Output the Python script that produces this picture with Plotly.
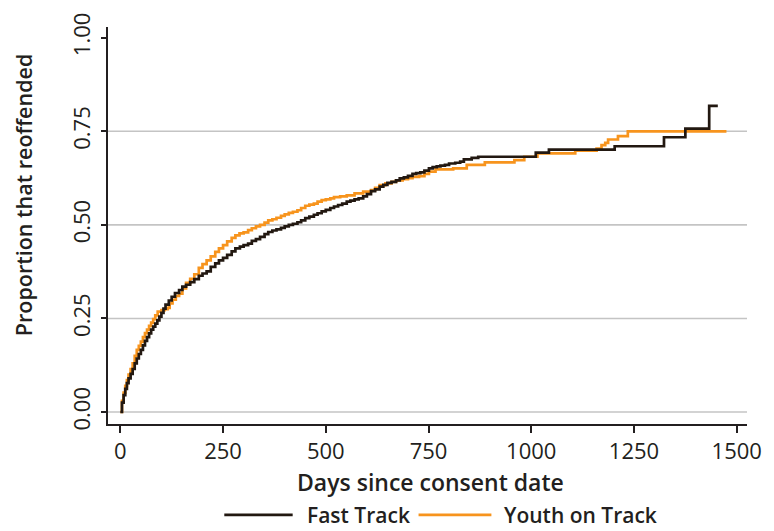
import plotly.graph_objects as go

# Kaplan-Meier style cumulative proportion reoffending, by programme
fast_days = [0, 4, 8, 12, 16, 20, 25, 30, 35, 40, 45, 50, 55, 60, 65, 70, 75, 80, 85, 90,
             95, 100, 105, 110, 118, 125, 133, 143, 151, 160, 170, 180, 191, 200, 210, 220,
             231, 240, 250, 260, 271, 280, 291, 300, 311, 320, 330, 340, 351, 360, 370, 380,
             391, 400, 410, 420, 431, 440, 450, 460, 471, 480, 490, 500, 511, 520, 530, 540,
             551, 560, 570, 580, 591, 600, 610, 620, 631, 640, 650, 660, 671, 680, 690, 700,
             711, 720, 730, 740, 751, 760, 770, 779, 790, 800, 815, 827, 836, 855, 871, 1011,
             1043, 1203, 1323, 1375, 1433, 1454]
fast_prop = [0.0, 0.025, 0.045, 0.062, 0.077, 0.09, 0.102, 0.115, 0.13, 0.143, 0.155, 0.166,
             0.178, 0.19, 0.2, 0.21, 0.22, 0.228, 0.236, 0.245, 0.255, 0.265, 0.276, 0.287,
             0.298, 0.308, 0.318, 0.326, 0.335, 0.34, 0.347, 0.355, 0.364, 0.37, 0.376, 0.388,
             0.397, 0.405, 0.412, 0.42, 0.429, 0.437, 0.442, 0.446, 0.45, 0.457, 0.462, 0.468,
             0.475, 0.481, 0.485, 0.488, 0.492, 0.496, 0.5, 0.503, 0.507, 0.512, 0.518, 0.522,
             0.527, 0.531, 0.536, 0.54, 0.545, 0.549, 0.553, 0.557, 0.562, 0.565, 0.568, 0.571,
             0.576, 0.582, 0.59, 0.595, 0.602, 0.607, 0.612, 0.615, 0.619, 0.624, 0.627, 0.631,
             0.636, 0.638, 0.64, 0.645, 0.651, 0.654, 0.656, 0.658, 0.66, 0.664, 0.666, 0.669,
             0.675, 0.679, 0.682, 0.693, 0.701, 0.71, 0.734, 0.757, 0.818, 0.818]

youth_days = [0, 4, 8, 12, 16, 20, 25, 30, 35, 40, 45, 50, 55, 60, 65, 70, 75, 80, 85, 91,
              100, 108, 115, 120, 127, 135, 143, 151, 160, 170, 180, 191, 200, 210, 220, 231,
              240, 250, 260, 271, 280, 290, 300, 311, 320, 330, 340, 351, 360, 370, 380, 391,
              400, 410, 420, 431, 440, 450, 460, 471, 480, 490, 500, 511, 520, 535, 551, 570,
              591, 610, 620, 631, 645, 660, 671, 687, 700, 711, 727, 740, 751, 767, 810, 843,
              887, 959, 983, 1015, 1107, 1159, 1171, 1180, 1187, 1211, 1235, 1475]
youth_prop = [0.0, 0.03, 0.052, 0.07, 0.085, 0.1, 0.115, 0.13, 0.15, 0.166, 0.177, 0.188,
              0.2, 0.211, 0.22, 0.23, 0.239, 0.248, 0.258, 0.268, 0.272, 0.275, 0.278, 0.29,
              0.3, 0.31, 0.316, 0.33, 0.345, 0.356, 0.368, 0.385, 0.395, 0.405, 0.416, 0.428,
              0.437, 0.446, 0.456, 0.465, 0.472, 0.477, 0.48, 0.486, 0.491, 0.496, 0.5, 0.506,
              0.512, 0.515, 0.519, 0.524, 0.528, 0.532, 0.535, 0.539, 0.545, 0.551, 0.554,
              0.557, 0.562, 0.566, 0.568, 0.571, 0.574, 0.576, 0.579, 0.584, 0.589, 0.593,
              0.599, 0.606, 0.611, 0.615, 0.619, 0.622, 0.625, 0.628, 0.63, 0.636, 0.642,
              0.648, 0.651, 0.66, 0.667, 0.673, 0.682, 0.691, 0.698, 0.704, 0.713, 0.719,
              0.728, 0.737, 0.75, 0.75]

series_names = ["Fast Track", "Youth on Track"]
series_colors = ["#221811", "#F7941D"]

x_ticks = [0, 250, 500, 750, 1000, 1250, 1500]
x_tick_labels = ["0", "250", "500", "750", "1000", "1250", "1500"]
y_ticks = [0.0, 0.25, 0.50, 0.75, 1.00]
y_tick_labels = ["0.00", "0.25", "0.50", "0.75", "1.00"]
grid_levels = [0.0, 0.25, 0.50, 0.75]

FONT = "Open Sans"
TEXT = "#231f20"
TICK_FONT = dict(family=FONT, size=22, color=TEXT, weight=500)

fig = go.Figure()
for days, prop, name, color in [(youth_days, youth_prop, series_names[1], series_colors[1]),
                                (fast_days, fast_prop, series_names[0], series_colors[0])]:
    fig.add_trace(go.Scatter(x=days, y=prop, mode="lines", name=name,
                             line=dict(color=color, width=2.7, shape="hv"),
                             showlegend=False))

# horizontal reference lines
for g in grid_levels:
    fig.add_shape(type="line", xref="paper", x0=0, x1=1, yref="y", y0=g, y1=g,
                  line=dict(color="#c4c4c4", width=1.6), layer="below")

fig.update_layout(
    width=774, height=531,
    margin=dict(l=108, r=18, t=27, b=107),
    paper_bgcolor="white", plot_bgcolor="white",
    font=dict(family=FONT, color=TEXT, size=18),
)
fig.update_xaxes(range=[-30, 1525], tickvals=x_ticks, ticktext=x_tick_labels,
                 showgrid=False, zeroline=False, ticklabeloverflow="allow",
                 showline=True, linecolor="#231f20", linewidth=1.5,
                 ticks="outside", ticklen=7, tickwidth=1.5, tickcolor="#231f20",
                 tickfont=TICK_FONT)
fig.update_yaxes(range=[-0.032, 1.0286], tickvals=y_ticks, ticktext=y_tick_labels,
                 tickangle=-90, showgrid=False, zeroline=False, ticklabeloverflow="allow",
                 showline=True, linecolor="#231f20", linewidth=1.5,
                 ticks="outside", ticklen=5, tickwidth=1.5, tickcolor="#231f20",
                 ticklabelstandoff=2, tickfont=TICK_FONT)

# axis titles
fig.add_annotation(text="Days since consent date", xref="paper", yref="paper",
                   x=0.505, y=-0.146, xanchor="center", yanchor="middle", showarrow=False,
                   font=dict(family=FONT, size=23, color=TEXT, weight=600))
fig.add_annotation(text="Proportion that reoffended", xref="paper", yref="paper",
                   x=-0.131, y=0.577, xanchor="center", yanchor="middle", showarrow=False,
                   textangle=-90, font=dict(family=FONT, size=21.5, color=TEXT, weight=600))

# legend row beneath the axis title
legend_y = -0.229
legend_items = [(series_names[0], series_colors[0], 0.182, 0.289, 0.309),
                (series_names[1], series_colors[1], 0.486, 0.600, 0.617)]
for name, color, lx0, lx1, tx in legend_items:
    fig.add_shape(type="line", xref="paper", yref="paper", x0=lx0, x1=lx1,
                  y0=legend_y, y1=legend_y, line=dict(color=color, width=2.7))
    fig.add_annotation(text=name, xref="paper", yref="paper", x=tx, y=legend_y,
                       xanchor="left", yanchor="middle", showarrow=False,
                       font=dict(family=FONT, size=21, color=TEXT, weight=600))

fig.write_html("out.html")
